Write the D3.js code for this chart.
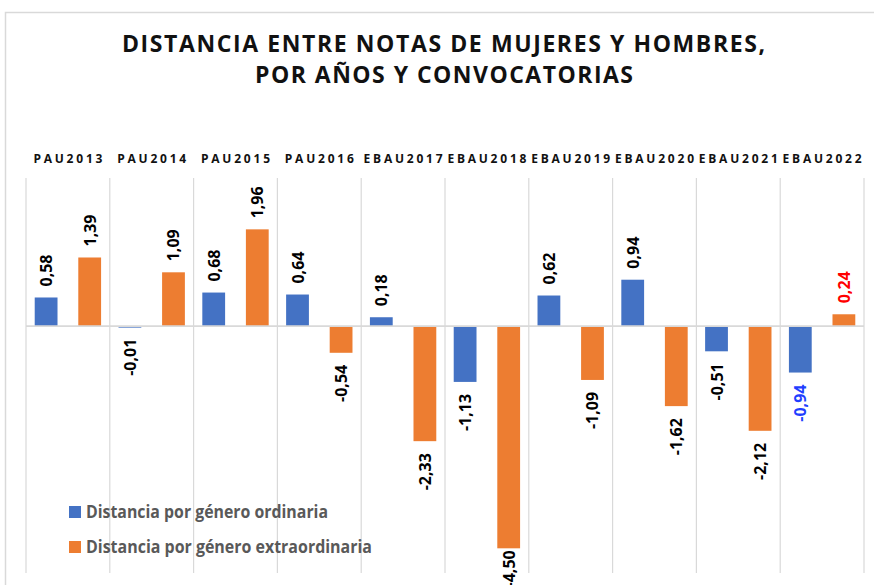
<!DOCTYPE html>
<html>
<head>
<meta charset="utf-8">
<script src="https://cdn.jsdelivr.net/npm/d3@7"></script>
<style>
  html, body { margin: 0; padding: 0; background: #ffffff; }
  svg { display: block; }
</style>
</head>
<body>
<svg id="chart" width="874" height="585"></svg>
<script>
// ---- data ----
const categories = ["PAU2013","PAU2014","PAU2015","PAU2016","EBAU2017","EBAU2018","EBAU2019","EBAU2020","EBAU2021","EBAU2022"];
const ordinaria = [0.58, -0.01, 0.68, 0.64, 0.18, -1.13, 0.62, 0.94, -0.51, -0.94];
const extraordinaria = [1.39, 1.09, 1.96, -0.54, -2.33, -4.50, -1.09, -1.62, -2.12, 0.24];
const seriesNames = ["Distancia por género ordinaria", "Distancia por género extraordinaria"];
const titleLines = ["DISTANCIA ENTRE NOTAS DE MUJERES Y HOMBRES,", "POR AÑOS Y CONVOCATORIAS"];
const yDomain = [-5, 3];

// ---- styles ----
const W = 874, H = 585;
const colors = ["#4472C4", "#ED7D31"];
const gridColor = "#d9d9d9";
const font = "'Open Sans', 'DejaVu Sans', sans-serif";
// special label colours (per category, per series)
const labelColorOverride = { "EBAU2022": ["#1f3fff", "#ff0000"] };

const svg = d3.select("#chart");

// outer chart border
svg.append("rect").attr("x", 5.5).attr("y", 12.5).attr("width", W + 10).attr("height", H + 10)
  .attr("fill", "#fff").attr("stroke", gridColor).attr("stroke-width", 1.5);

// scales
const x = d3.scaleBand().domain(categories).range([26, 864]).padding(0);
const x1 = d3.scaleBand().domain([0, 1]).range([0, x.bandwidth()]).paddingInner(0.477).paddingOuter(0.2);
const y = d3.scaleLinear().domain(yDomain).range([573, 178]);

// title
const title = svg.append("g");
const titleCfg = [{cx: 443.5, y: 52, len: 643}, {cx: 444, y: 83, len: 378}];
titleLines.forEach((t, i) => {
  const tt = title.append("text")
    .attr("x", titleCfg[i].cx).attr("y", titleCfg[i].y)
    .attr("text-anchor", "middle")
    .attr("font-family", font).attr("font-weight", 700).attr("font-size", 23)
    .attr("fill", "#111")
    .text(t);
  const natural = tt.node().getComputedTextLength();
  tt.attr("textLength", titleCfg[i].len)
    .attr("lengthAdjust", natural > titleCfg[i].len ? "spacingAndGlyphs" : "spacing");
});

// vertical gridlines (category separators)
const bounds = categories.map(c => x(c)).concat([x.range()[1]]);
svg.append("g").selectAll("line").data(bounds).join("line")
  .attr("x1", d => d).attr("x2", d => d)
  .attr("y1", y(yDomain[1])).attr("y2", y(yDomain[0]))
  .attr("stroke", gridColor).attr("stroke-width", 1.2);

// category labels on top
svg.append("g").selectAll("text").data(categories).join("text")
  .attr("x", d => x(d) + x.bandwidth() / 2)
  .attr("y", 163)
  .attr("text-anchor", "middle")
  .attr("font-family", font).attr("font-weight", 700).attr("font-size", 12)
  .attr("fill", "#111")
  .attr("textLength", d => d.length * 10 - 1).attr("lengthAdjust", "spacing")
  .text(d => d);

// bars
const series = [ordinaria, extraordinaria];
const barData = [];
categories.forEach((c, i) => {
  series.forEach((s, k) => barData.push({cat: c, k, v: s[i]}));
});

svg.append("g").selectAll("rect").data(barData).join("rect")
  .attr("x", d => x(d.cat) + x1(d.k))
  .attr("width", x1.bandwidth())
  .attr("y", d => Math.min(y(d.v), y(0)))
  .attr("height", d => Math.max(Math.abs(y(d.v) - y(0)), 1.5))
  .attr("fill", d => colors[d.k]);

// zero line
svg.append("line")
  .attr("x1", x.range()[0]).attr("x2", x.range()[1])
  .attr("y1", y(0)).attr("y2", y(0))
  .attr("stroke", gridColor).attr("stroke-width", 1.8);

// data labels (rotated)
const fmt = v => d3.format(".2f")(v).replace(".", ",").replace("−", "-");
const labels = svg.append("g");
barData.forEach(d => {
  const cx = x(d.cat) + x1(d.k) + x1.bandwidth() / 2;
  const col = labelColorOverride[d.cat] ? labelColorOverride[d.cat][d.k] : "#000";
  const t = labels.append("text")
    .attr("font-family", font).attr("font-weight", 700).attr("font-size", 16)
    .attr("fill", col)
    .attr("dominant-baseline", "central")
    .text(fmt(d.v));
  const len = t.node().getComputedTextLength();
  let pos, anchor;
  if (d.v >= 0) {
    pos = y(d.v) - 11; anchor = "start";
  } else {
    pos = y(d.v) + 12;
    if (pos + len > H) pos = y(d.v) + 2;
    anchor = "end";
  }
  t.attr("text-anchor", anchor)
   .attr("transform", `translate(${cx},${pos}) rotate(-90)`);
});

// legend
const legend = svg.append("g");
const legCfg = [{y: 518, len: 242}, {y: 553, len: 286}];
seriesNames.forEach((n, i) => {
  legend.append("rect").attr("x", 69).attr("y", legCfg[i].y - 12).attr("width", 12).attr("height", 12)
    .attr("fill", colors[i]);
  legend.append("text").attr("x", 86).attr("y", legCfg[i].y)
    .attr("font-family", font).attr("font-weight", 700).attr("font-size", 18)
    .attr("fill", "#595959")
    .attr("textLength", legCfg[i].len).attr("lengthAdjust", "spacingAndGlyphs")
    .text(n);
});
</script>
</body>
</html>
